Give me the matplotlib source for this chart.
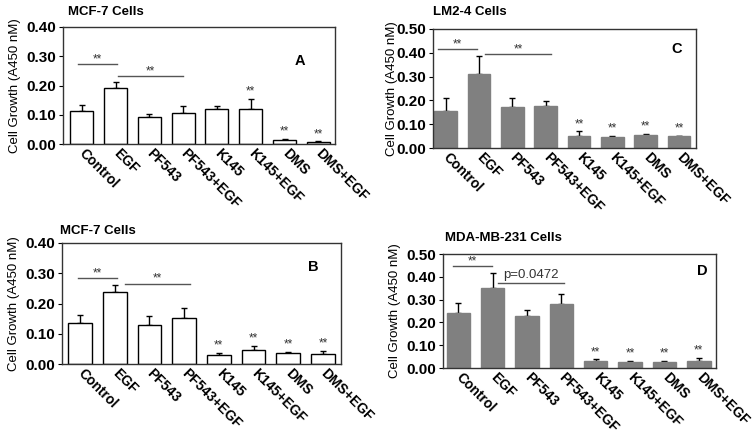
import numpy as np
import matplotlib
matplotlib.use("Agg")
import matplotlib.pyplot as plt
import matplotlib.transforms as mtransforms

plt.rcParams['font.family'] = ['Liberation Sans', 'DejaVu Sans']

labels = ["Control", "EGF", "PF543", "PF543+EGF", "K145", "K145+EGF", "DMS", "DMS+EGF"]

# MCF-7 (A)
a_mean = [0.112, 0.191, 0.092, 0.106, 0.119, 0.119, 0.014, 0.007]
a_err = [0.022, 0.020, 0.012, 0.023, 0.010, 0.034, 0.003, 0.002]
a_stars = [5, 6, 7]
# LM2-4 (C)
c_mean = [0.154, 0.313, 0.173, 0.177, 0.050, 0.045, 0.054, 0.050]
c_err = [0.055, 0.073, 0.036, 0.021, 0.020, 0.007, 0.006, 0.002]
c_stars = [4, 5, 6, 7]
# MCF-7 (B)
b_mean = [0.136, 0.239, 0.130, 0.152, 0.030, 0.045, 0.036, 0.033]
b_err = [0.025, 0.021, 0.029, 0.034, 0.008, 0.016, 0.004, 0.009]
b_stars = [4, 5, 6, 7]
# MDA-MB-231 (D)
d_mean = [0.243, 0.352, 0.227, 0.281, 0.030, 0.027, 0.025, 0.030]
d_err = [0.040, 0.065, 0.028, 0.042, 0.008, 0.005, 0.006, 0.015]
d_stars = [4, 5, 6, 7]

# significance brackets: (x0, x1, y, text)
a_br = [(-0.11, 1.04, 0.273, "**"), (1.07, 2.99, 0.232, "**")]
c_br = [(-0.23, 0.94, 0.416, "**"), (1.18, 3.16, 0.393, "**")]
b_br = [(-0.06, 1.07, 0.285, "**"), (1.30, 3.17, 0.266, "**")]
d_br = [(-0.16, 0.97, 0.447, "**"), (1.15, 3.07, 0.375, "p=0.0472")]

W, H = 753, 438
fig = plt.figure(figsize=(W / 100, H / 100), dpi=100)


def px_axes(l, t, r, b):
    return fig.add_axes([l / W, 1 - b / H, (r - l) / W, (b - t) / H])


panels = [
    # box px, xlim, ymax, means, errs, stars, brackets, fill, letter, letter pos, title, title pos, ylabel x
    ((63, 27, 335, 144), (-0.553, 7.49), 0.40, a_mean, a_err, a_stars, a_br, "white", "A", (0.871, 0.709),
     "MCF-7 Cells", (68, 12), 15),
    ((432.7, 29, 695.7, 148), (-0.384, 7.50), 0.50, c_mean, c_err, c_stars, c_br, "#808080", "C", (0.928, 0.829),
     "LM2-4 Cells", (433, 12), 392),
    ((62.3, 243, 340.7, 364), (-0.51, 7.51), 0.40, b_mean, b_err, b_stars, b_br, "white", "B", (0.90, 0.80),
     "MCF-7 Cells", (60, 231), 14),
    ((443.3, 254, 715.7, 368), (-0.436, 7.49), 0.50, d_mean, d_err, d_stars, d_br, "#808080", "D", (0.952, 0.853),
     "MDA-MB-231 Cells", (445, 238), 395),
]

shift = mtransforms.ScaledTranslation(3 / 100, 0, fig.dpi_scale_trans)

for box, xl, ymax, mean, err, stars, brs, fill, letter, lpos, title, tpos, ylx in panels:
    ax = px_axes(*box)
    x = np.arange(len(labels))
    edge = "black" if fill == "white" else "#808080"
    ax.bar(x, mean, width=0.68, color=fill, edgecolor=edge, linewidth=1.0, zorder=2)
    ax.errorbar(x, mean, yerr=[np.zeros(len(mean)), err], fmt="none", ecolor="black",
                elinewidth=1.0, capsize=2.5, capthick=1.0, zorder=1)
    for i in stars:
        ax.annotate("**", (x[i], mean[i] + err[i]), xytext=(0, 1), textcoords="offset points",
                    ha="center", va="bottom", fontsize=8.5, color="#333333")
    for x0, x1, y, t in brs:
        ax.plot([x0, x1], [y, y], color="#555555", lw=1.0)
        if t == "**":
            ax.annotate(t, ((x0 + x1) / 2, y), xytext=(0, -1), textcoords="offset points",
                        ha="center", va="bottom", fontsize=8.5, color="#333333")
        else:
            ax.annotate(t, ((x0 + x1) / 2, y), xytext=(0, 1), textcoords="offset points",
                        ha="center", va="bottom", fontsize=9.5, color="#333333")
    ax.set_xlim(*xl)
    ax.set_ylim(0, ymax)
    ax.set_yticks(np.arange(0, ymax + 0.001, 0.10))
    ax.set_yticklabels(["%.2f" % v for v in np.arange(0, ymax + 0.001, 0.10)],
                       fontsize=11, fontweight="bold")
    ax.set_xticks(x)
    ax.set_xticklabels(labels, rotation=-45, rotation_mode="anchor", ha="left", va="center",
                       fontsize=10, fontweight="bold")
    for lab in ax.get_xticklabels():
        lab.set_transform(lab.get_transform() + shift)
    ax.tick_params(axis="x", length=0, pad=5)
    ax.tick_params(axis="y", length=3, width=0.8, pad=2, direction="out")
    for s in ax.spines.values():
        s.set_color("#333333")
        s.set_linewidth(1.0)
    ax.text(lpos[0], lpos[1], letter, transform=ax.transAxes, ha="center", va="center",
            fontsize=10.5, fontweight="bold")
    fig.text(tpos[0] / W, 1 - tpos[1] / H, title, ha="left", va="center",
             fontsize=9.5, fontweight="bold")
    fig.text(ylx / W, 1 - ((box[1] + box[3]) / 2) / H, "Cell Growth (A450 nM)", rotation=90,
             ha="center", va="center", fontsize=9.5)

fig.savefig("out.png", dpi=100)
